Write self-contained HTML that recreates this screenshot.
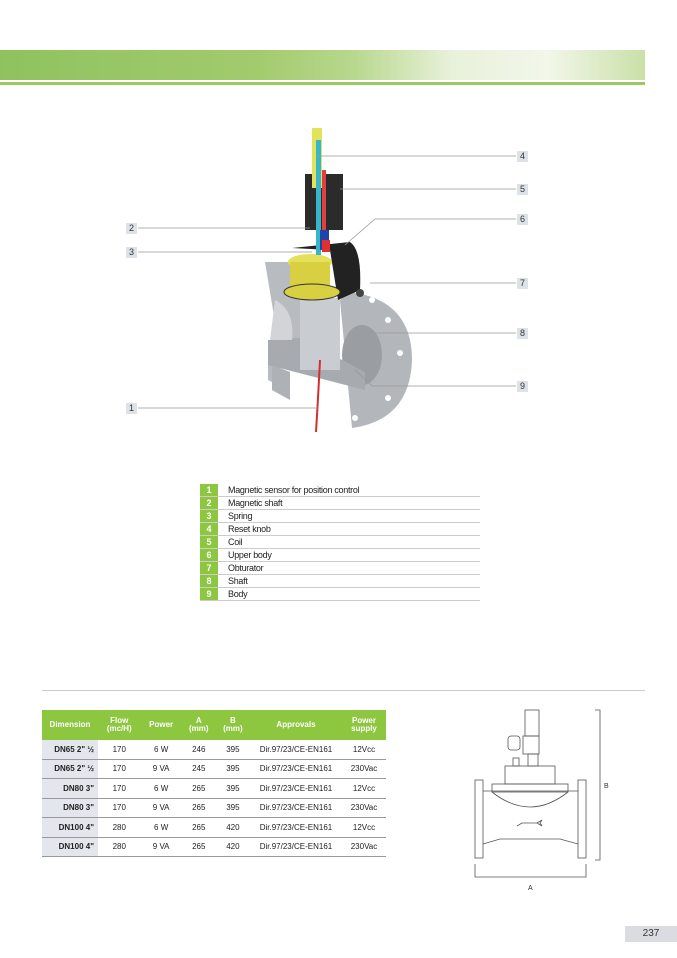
<!DOCTYPE html>
<html><head><style>
body{margin:0;width:677px;height:958px;background:#fff;position:relative;font-family:"Liberation Sans",sans-serif;overflow:hidden}
.abs{position:absolute}
.lbl{position:absolute;width:11px;height:11px;background:#dde2e8;font-size:9px;line-height:11px;text-align:center;color:#333}
.lg{position:absolute;left:200px;width:280px;height:12px;border-bottom:1px solid #ccc;font-size:9px;line-height:12px;color:#222}
.lg b{position:absolute;left:0;top:0;width:18px;height:12px;background:#8dc63f;color:#fff;text-align:center;font-size:9px}
.lg span{position:absolute;left:28px;letter-spacing:-0.3px}
table{position:absolute;left:42px;top:710px;width:344px;border-collapse:collapse;font-size:8px;color:#222}
th{background:#8dc63f;color:#fff;font-weight:bold;height:28px;line-height:8px;font-size:8px}
td{height:18.5px;text-align:center;border-bottom:1px solid #999;padding:0}
td:first-child{background:#e3e6ec;font-weight:bold;text-align:right;padding-right:4px}
</style></head><body>
<div class="abs" style="left:0;top:50px;width:645px;height:30px;background:linear-gradient(90deg,#8fc25f 0%,#a2cb6e 40%,#b8d88e 55%,#e8f1da 70%,#f2f7ea 85%,#c9e0a8 100%)"></div>
<div class="abs" style="left:0;top:82px;width:645px;height:3px;background:#9cc864"></div>

<svg class="abs" style="left:0;top:0" width="677" height="460">
<!-- right flange -->
<path d="M350 292 Q412 300 412 360 Q410 420 352 428 L340 300 Z" fill="#b3b6ba"/>
<g fill="#fff"><circle cx="388" cy="320" r="3"/><circle cx="400" cy="353" r="3"/><circle cx="388" cy="398" r="3"/><circle cx="355" cy="418" r="3"/><circle cx="372" cy="300" r="3"/></g>
<ellipse cx="362" cy="355" rx="20" ry="30" fill="#9a9ea2"/>
<!-- left body -->
<path d="M265 262 L300 262 L300 340 L268 345 L268 380 L278 385 L278 340 Z" fill="#b8bbbf"/>
<path d="M268 340 L300 338 L365 372 L365 390 L268 365 Z" fill="#a7abaf"/>
<path d="M275 300 Q295 310 292 340 L270 340 Z" fill="#d2d4d7"/>
<rect x="300" y="298" width="40" height="72" fill="#c9ccd0"/>
<path d="M272 365 L290 372 L290 400 L272 390 Z" fill="#aeb1b5"/>
<!-- black upper body -->
<path d="M292 248 L350 242 Q362 250 360 290 L338 300 L330 250 Z" fill="#222"/>
<circle cx="360" cy="293" r="4" fill="#444"/>
<!-- yellow obturator -->
<ellipse cx="310" cy="262" rx="22" ry="8" fill="#e5e05a"/>
<rect x="290" y="262" width="40" height="28" fill="#d8d040"/>
<ellipse cx="312" cy="292" rx="28" ry="8" fill="#d8d040" stroke="#333" stroke-width="1"/>
<!-- coil -->
<rect x="305" y="174" width="38" height="56" fill="#2b2b2b"/>
<rect x="312" y="128" width="10" height="60" fill="#e3e35a"/>
<rect x="316" y="140" width="5" height="115" fill="#36b6c8"/>
<rect x="322" y="170" width="4" height="70" fill="#e04040"/>
<rect x="320" y="230" width="9" height="20" fill="#2244aa"/>
<rect x="322" y="240" width="8" height="12" fill="#e03030"/>
<path d="M320 360 Q318 400 316 432" stroke="#d03030" stroke-width="2" fill="none"/>
<g stroke="#999" stroke-width="0.8" fill="none">
<line x1="138" y1="408" x2="318" y2="408"/>
<line x1="138" y1="228" x2="310" y2="228"/>
<line x1="138" y1="252" x2="312" y2="252"/>
<line x1="316" y1="156" x2="516" y2="156"/>
<line x1="340" y1="189" x2="516" y2="189"/>
<polyline points="345,245 375,219 516,219"/>
<line x1="370" y1="283" x2="516" y2="283"/>
<line x1="370" y1="333" x2="516" y2="333"/>
<polyline points="355,370 372,386 516,386"/>
</g>
</svg>
<div class="lbl" style="left:126px;top:223px">2</div>
<div class="lbl" style="left:126px;top:247px">3</div>
<div class="lbl" style="left:126px;top:403px">1</div>
<div class="lbl" style="left:517px;top:151px">4</div>
<div class="lbl" style="left:517px;top:184px">5</div>
<div class="lbl" style="left:517px;top:214px">6</div>
<div class="lbl" style="left:517px;top:278px">7</div>
<div class="lbl" style="left:517px;top:328px">8</div>
<div class="lbl" style="left:517px;top:381px">9</div>

<div class="lg" style="top:484px"><b>1</b><span>Magnetic sensor for position control</span></div>
<div class="lg" style="top:497px"><b>2</b><span>Magnetic shaft</span></div>
<div class="lg" style="top:510px"><b>3</b><span>Spring</span></div>
<div class="lg" style="top:523px"><b>4</b><span>Reset knob</span></div>
<div class="lg" style="top:536px"><b>5</b><span>Coil</span></div>
<div class="lg" style="top:549px"><b>6</b><span>Upper body</span></div>
<div class="lg" style="top:562px"><b>7</b><span>Obturator</span></div>
<div class="lg" style="top:575px"><b>8</b><span>Shaft</span></div>
<div class="lg" style="top:588px"><b>9</b><span>Body</span></div>

<div class="abs" style="left:42px;top:690px;width:603px;height:1px;background:#ccc"></div>

<table>
<tr><th style="width:54px">Dimension</th><th>Flow<br>(mc/H)</th><th>Power</th><th>A<br>(mm)</th><th>B<br>(mm)</th><th style="width:90px">Approvals</th><th>Power<br>supply</th></tr>
<tr><td>DN65 2" ½</td><td>170</td><td>6 W</td><td>246</td><td>395</td><td>Dir.97/23/CE-EN161</td><td>12Vcc</td></tr>
<tr><td>DN65 2" ½</td><td>170</td><td>9 VA</td><td>245</td><td>395</td><td>Dir.97/23/CE-EN161</td><td>230Vac</td></tr>
<tr><td>DN80 3"</td><td>170</td><td>6 W</td><td>265</td><td>395</td><td>Dir.97/23/CE-EN161</td><td>12Vcc</td></tr>
<tr><td>DN80 3"</td><td>170</td><td>9 VA</td><td>265</td><td>395</td><td>Dir.97/23/CE-EN161</td><td>230Vac</td></tr>
<tr><td>DN100 4"</td><td>280</td><td>6 W</td><td>265</td><td>420</td><td>Dir.97/23/CE-EN161</td><td>12Vcc</td></tr>
<tr><td>DN100 4"</td><td>280</td><td>9 VA</td><td>265</td><td>420</td><td>Dir.97/23/CE-EN161</td><td>230Vac</td></tr>
</table>

<svg class="abs" style="left:450px;top:700px" width="170" height="200" fill="none" stroke="#555" stroke-width="0.8">
<rect x="75" y="10" width="14" height="26"/>
<rect x="73" y="36" width="16" height="18"/>
<rect x="58" y="36" width="12" height="14" rx="3"/>
<rect x="78" y="54" width="10" height="12"/>
<rect x="63" y="58" width="6" height="8"/>
<rect x="55" y="66" width="50" height="18"/>
<rect x="42" y="84" width="76" height="8"/>
<path d="M42 92 Q80 122 118 92"/>
<rect x="25" y="80" width="8" height="78"/>
<rect x="128" y="80" width="8" height="78"/>
<line x1="33" y1="91" x2="128" y2="91"/>
<path d="M33 144 L50 139 L110 139 L128 144"/>
<path d="M67 126 l5 -3 h15 l5 -3 l-2 3 l2 3 l-5 -3 h-15 z"/>
<polyline points="145,10 150,10 150,160 145,160"/>
<polyline points="25,164 25,177 136,177 136,164"/>
<text x="154" y="88" fill="#333" stroke="none" font-size="7" font-family="Liberation Sans">B</text>
<text x="78" y="190" fill="#333" stroke="none" font-size="7" font-family="Liberation Sans">A</text>
</svg>

<div class="abs" style="left:625px;top:926px;width:52px;height:16px;background:#d9dde2;font-size:10px;line-height:16px;text-align:center;color:#333">237</div>
</body></html>
